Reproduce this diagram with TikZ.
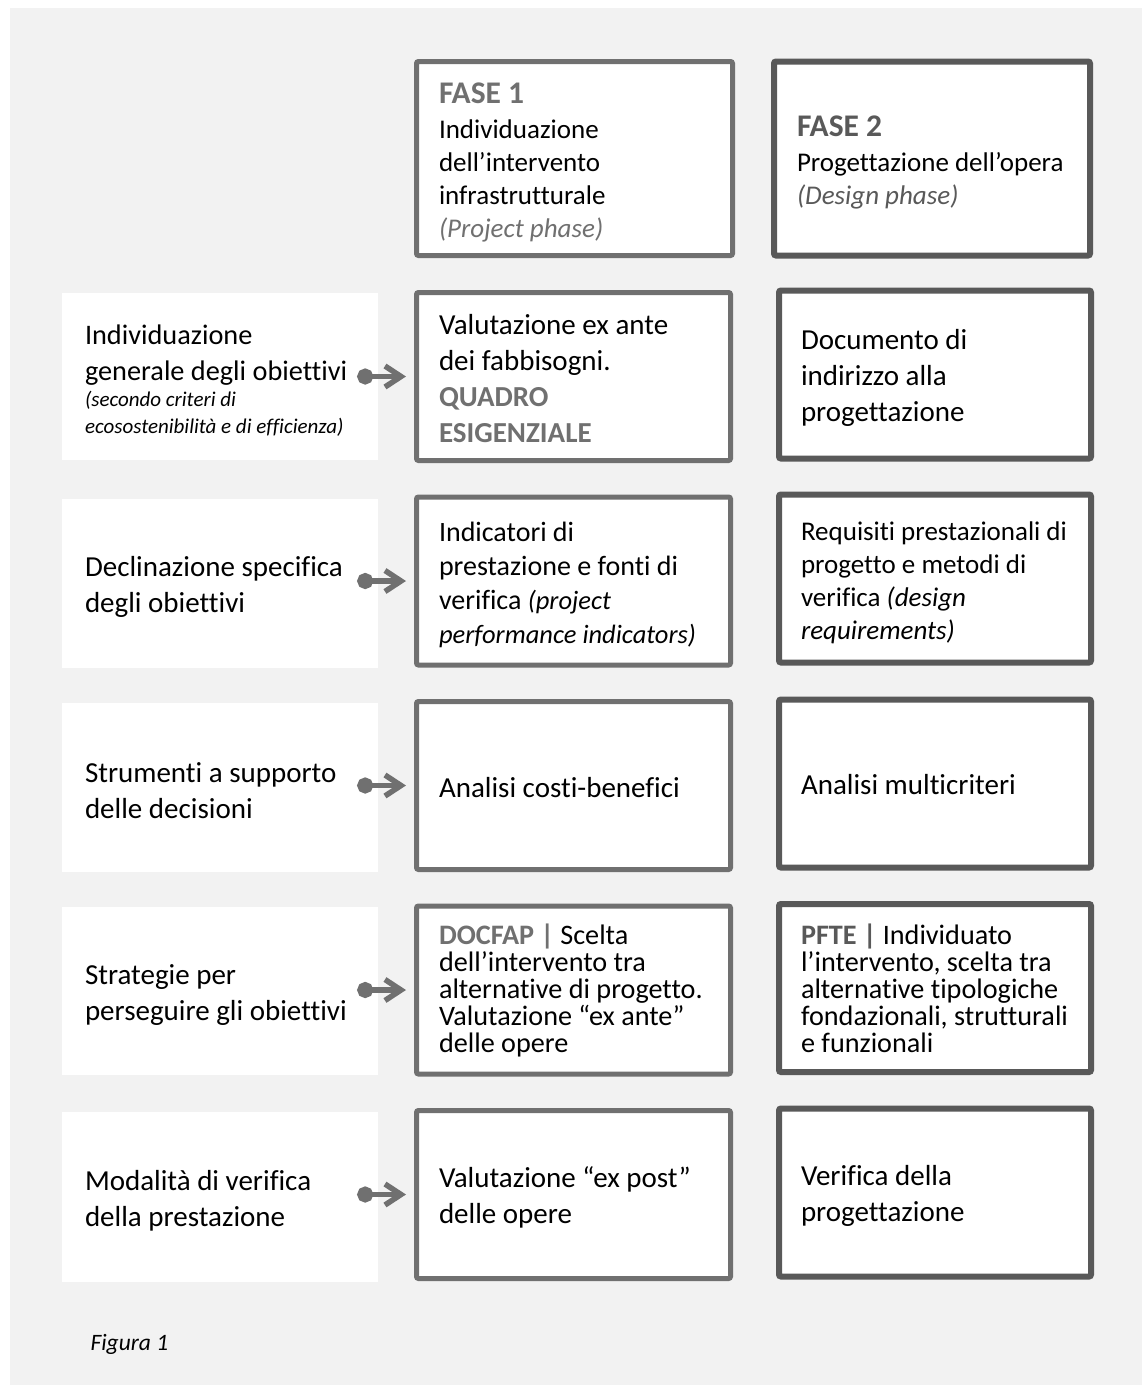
\documentclass[tikz,border=0pt]{standalone}
\usepackage{fontspec}
\setmainfont{Carlito}[Ligatures={NoCommon}]
\usepackage{tikz}
\usetikzlibrary{arrows.meta, calc}
\definecolor{panel}{RGB}{242,242,242}
\definecolor{midgray}{RGB}{112,112,112}
\definecolor{darkgray}{RGB}{89,89,89}
\newcommand{\tightlines}{\fontsize{28.2}{27}\selectfont\lineskiplimit -30pt\relax}

\begin{document}
\begin{tikzpicture}[
			x=1pt, y=-1pt,
			indent/.style={execute at begin node={\leftskip #1\relax}},
			lift/.style={execute at begin node={\rule{0pt}{#1}}},
			label/.style={fill=white, text width=296pt, inner xsep=10pt, indent=13pt, lift=27pt,
				minimum height=167pt, align=flush left, font=\fontsize{29}{36}\selectfont},
			phase/.style={draw, fill=white, rounded corners=2pt, minimum height=168pt,
				align=flush left, font=\fontsize{29}{36}\selectfont},
			phaseone/.style={phase, draw=midgray, line width=5pt, text width=294pt, inner xsep=10pt, indent=12.5pt},
			phasetwo/.style={phase, draw=darkgray, line width=6pt, text width=292pt, inner xsep=10pt, indent=12pt},
			head/.style={font=\fontsize{27}{33}\selectfont, minimum height=194pt, text width=296pt, lift=29pt},
			tight/.style={font=\tightlines},
			link/.style={midgray, line width=5.5pt,
				{Circle[length=16pt]}-{Straight Barb[length=16pt, width=21pt]}}
			]
			
			% Background
			\useasboundingbox (0,0) rectangle (1142,1385);
			\fill[panel] (10,8) rectangle (1142,1385);
			
			% Phase headers
			\node[phaseone, head] (fase1) at (574.5,158.5)
			{{\color{midgray}\bfseries\fontsize{31.5}{35}\selectfont FASE 1}\\[2pt]Individuazione\\dell’intervento\\infrastrutturale\\{\itshape\color{midgray}(Project phase)}};
			\node[phasetwo, head, indent=13pt] (fase2) at (932,158.5)
			{{\color{darkgray}\bfseries\fontsize{31.5}{35}\selectfont FASE 2}\\[2pt]Progettazione dell’opera\\{\itshape\color{darkgray}(Design phase)}};
			
			% Left labels
			\node[label, font=\fontsize{28.3}{36}\selectfont] (lbl1) at (220,376.5)
			{Individuazione\\generale degli obiettivi\\[-10pt]{\itshape\fontsize{21}{27}\selectfont (secondo criteri di}\\[-9pt]{\itshape\fontsize{21}{27}\selectfont ecosostenibilità e di efficienza)}};
			\node[label, minimum height=169pt] (lbl2) at (220,583.5) {Declinazione specifica\\degli obiettivi};
			\node[label, minimum height=169pt] (lbl3) at (220,787.5) {Strumenti a supporto\\delle decisioni};
			\node[label, minimum height=168pt] (lbl4) at (220,991) {Strategie per\\perseguire gli obiettivi};
			\node[label, minimum height=170pt] (lbl5) at (220,1197) {Modalità di verifica\\della prestazione};
			
			% Phase 1 column
			\node[phaseone, lift=25pt] (mid1) at (573.5,376.5)
			{Valutazione ex ante\\dei fabbisogni.\\{\bfseries\color{midgray}QUADRO\\ESIGENZIALE}};
			\node[phaseone, lift=27pt, font=\fontsize{28}{34}\selectfont] (mid2) at (573.5,581)
			{Indicatori di\\prestazione e fonti di\\verifica {\itshape\fontsize{26.5}{34}\selectfont(project}\\{\itshape\fontsize{26.5}{34}\selectfont performance indicators)}};
			\node[phaseone, lift=25pt] (mid3) at (573.5,785.5) {Analisi costi-benefici};
			\node[phaseone, tight] (mid4) at (573.5,990)
			{{\bfseries\color{midgray}DOCFAP |} Scelta\\dell’intervento tra\\alternative di progetto.\\Valutazione “ex ante”\\delle opere};
			\node[phaseone, lift=27pt] (mid5) at (573.5,1194.5) {Valutazione “ex post”\\delle opere};
			
			% Phase 2 column
			\node[phasetwo, lift=27pt] (des1) at (935,374.5) {Documento di\\indirizzo alla\\progettazione};
			\node[phasetwo, lift=28pt, font=\fontsize{27}{33}\selectfont] (des2) at (935,578.5)
			{Requisiti prestazionali di\\progetto e metodi di\\verifica \textit{(design}\\\textit{requirements)}};
			\node[phasetwo, lift=23pt] (des3) at (935,783.5) {Analisi multicriteri};
			\node[phasetwo, tight] (des4) at (935,988)
			{{\bfseries\color{darkgray}PFTE |} Individuato\\l’intervento, scelta tra\\alternative tipologiche\\fondazionali, strutturali\\e funzionali};
			\node[phasetwo, lift=27pt] (des5) at (935,1192.5) {Verifica della\\progettazione};
			
			% Arrows
			\draw[link] ($(lbl1.east |- mid1.west)+(-21,0)$) -- ($(mid1.west)+(-8,0)$);
			\draw[link] ($(lbl2.east |- mid2.west)+(-21,0)$) -- ($(mid2.west)+(-8,0)$);
			\draw[link] ($(lbl3.east |- mid3.west)+(-21,0)$) -- ($(mid3.west)+(-8,0)$);
			\draw[link] ($(lbl4.east |- mid4.west)+(-21,0)$) -- ($(mid4.west)+(-8,0)$);
			\draw[link] ($(lbl5.east |- mid5.west)+(-21,0)$) -- ($(mid5.west)+(-8,0)$);
			
			% Caption
			\node[anchor=base west, font=\itshape\fontsize{23.5}{26}\selectfont] (fig) at (87,1350) {Figura 1};
			
		\end{tikzpicture}
\end{document}
